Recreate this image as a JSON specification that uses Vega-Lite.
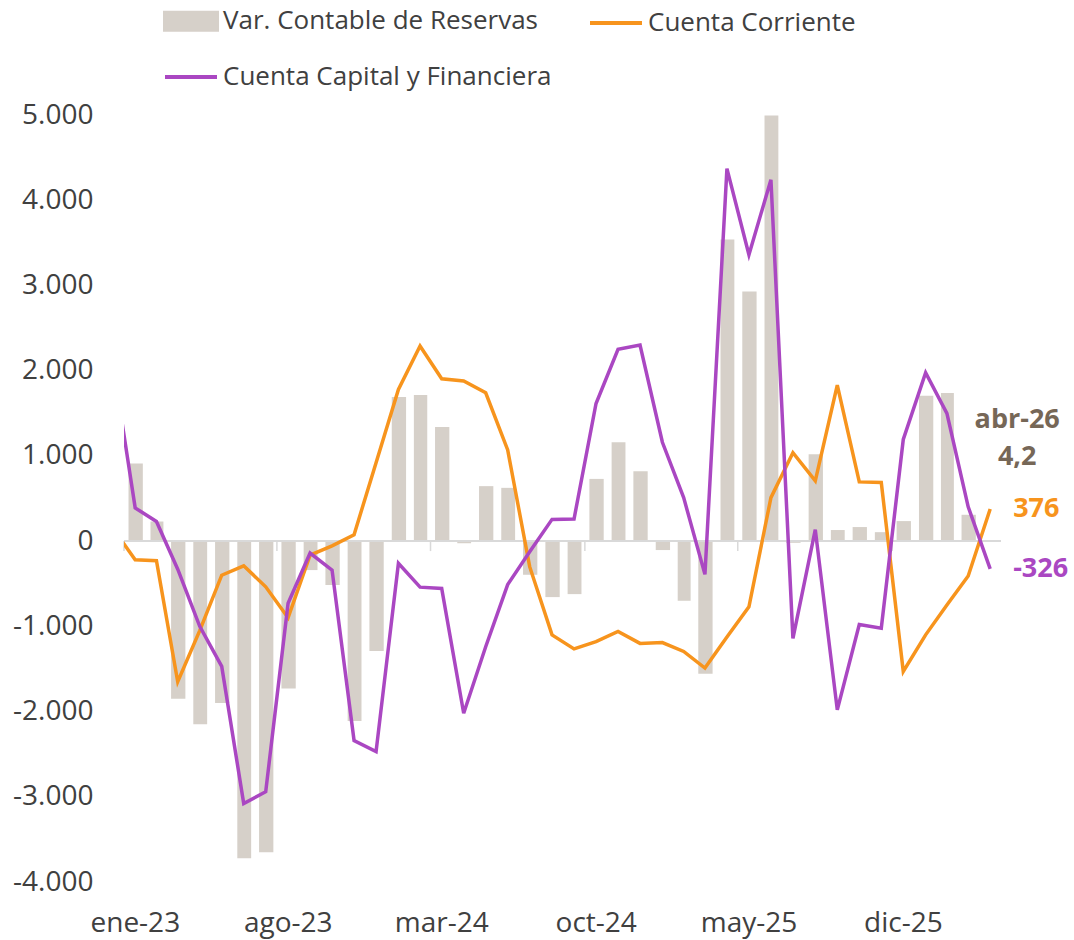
{
  "$schema": "https://vega.github.io/schema/vega-lite/v6.json",
  "width": 877,
  "height": 767,
  "autosize": {"type": "none"},
  "padding": {"left": 124, "top": 115, "right": 73, "bottom": 58},
  "background": "white",
  "config": {
    "view": {"stroke": null},
    "font": "Open Sans",
    "locale": {
      "number": {"decimal": ",", "thousands": ".", "grouping": [3], "currency": ["", " €"], "minus": "-"},
      "time": {
        "dateTime": "%A, %e de %B de %Y, %X",
        "date": "%d/%m/%Y",
        "time": "%H:%M:%S",
        "periods": ["AM", "PM"],
        "days": ["domingo", "lunes", "martes", "miércoles", "jueves", "viernes", "sábado"],
        "shortDays": ["dom", "lun", "mar", "mié", "jue", "vie", "sáb"],
        "months": ["enero", "febrero", "marzo", "abril", "mayo", "junio", "julio", "agosto", "septiembre", "octubre", "noviembre", "diciembre"],
        "shortMonths": ["ene", "feb", "mar", "abr", "may", "jun", "jul", "ago", "sep", "oct", "nov", "dic"]
      }
    }
  },
  "datasets": {
    "main": [
      {"fecha": "2022-12-01", "reservas": null, "Cuenta Corriente": 150, "Cuenta Capital y Financiera": 2100},
      {"fecha": "2023-01-01", "reservas": 910, "Cuenta Corriente": -220, "Cuenta Capital y Financiera": 390},
      {"fecha": "2023-02-01", "reservas": 230, "Cuenta Corriente": -230, "Cuenta Capital y Financiera": 230},
      {"fecha": "2023-03-01", "reservas": -1850, "Cuenta Corriente": -1650, "Cuenta Capital y Financiera": -330},
      {"fecha": "2023-04-01", "reservas": -2150, "Cuenta Corriente": -1050, "Cuenta Capital y Financiera": -1000},
      {"fecha": "2023-05-01", "reservas": -1900, "Cuenta Corriente": -400, "Cuenta Capital y Financiera": -1470},
      {"fecha": "2023-06-01", "reservas": -3720, "Cuenta Corriente": -290, "Cuenta Capital y Financiera": -3080},
      {"fecha": "2023-07-01", "reservas": -3650, "Cuenta Corriente": -536, "Cuenta Capital y Financiera": -2940},
      {"fecha": "2023-08-01", "reservas": -1730, "Cuenta Corriente": -900, "Cuenta Capital y Financiera": -730},
      {"fecha": "2023-09-01", "reservas": -340, "Cuenta Corriente": -165, "Cuenta Capital y Financiera": -140},
      {"fecha": "2023-10-01", "reservas": -515, "Cuenta Corriente": -55, "Cuenta Capital y Financiera": -340},
      {"fecha": "2023-11-01", "reservas": -2110, "Cuenta Corriente": 75, "Cuenta Capital y Financiera": -2340},
      {"fecha": "2023-12-01", "reservas": -1290, "Cuenta Corriente": 920, "Cuenta Capital y Financiera": -2470},
      {"fecha": "2024-01-01", "reservas": 1690, "Cuenta Corriente": 1780, "Cuenta Capital y Financiera": -260},
      {"fecha": "2024-02-01", "reservas": 1715, "Cuenta Corriente": 2290, "Cuenta Capital y Financiera": -540},
      {"fecha": "2024-03-01", "reservas": 1340, "Cuenta Corriente": 1905, "Cuenta Capital y Financiera": -555},
      {"fecha": "2024-04-01", "reservas": -25, "Cuenta Corriente": 1880, "Cuenta Capital y Financiera": -2020},
      {"fecha": "2024-05-01", "reservas": 645, "Cuenta Corriente": 1740, "Cuenta Capital y Financiera": -1240},
      {"fecha": "2024-06-01", "reservas": 625, "Cuenta Corriente": 1070, "Cuenta Capital y Financiera": -510},
      {"fecha": "2024-07-01", "reservas": -395, "Cuenta Corriente": -300, "Cuenta Capital y Financiera": -125},
      {"fecha": "2024-08-01", "reservas": -657, "Cuenta Corriente": -1100, "Cuenta Capital y Financiera": 255},
      {"fecha": "2024-09-01", "reservas": -622, "Cuenta Corriente": -1265, "Cuenta Capital y Financiera": 260},
      {"fecha": "2024-10-01", "reservas": 730, "Cuenta Corriente": -1180, "Cuenta Capital y Financiera": 1615},
      {"fecha": "2024-11-01", "reservas": 1160, "Cuenta Corriente": -1060, "Cuenta Capital y Financiera": 2250},
      {"fecha": "2024-12-01", "reservas": 820, "Cuenta Corriente": -1200, "Cuenta Capital y Financiera": 2300},
      {"fecha": "2025-01-01", "reservas": -105, "Cuenta Corriente": -1190, "Cuenta Capital y Financiera": 1160},
      {"fecha": "2025-02-01", "reservas": -700, "Cuenta Corriente": -1295, "Cuenta Capital y Financiera": 510},
      {"fecha": "2025-03-01", "reservas": -1555, "Cuenta Corriente": -1490, "Cuenta Capital y Financiera": -390},
      {"fecha": "2025-04-01", "reservas": 3540, "Cuenta Corriente": -1125, "Cuenta Capital y Financiera": 4370},
      {"fecha": "2025-05-01", "reservas": 2930, "Cuenta Corriente": -770, "Cuenta Capital y Financiera": 3360},
      {"fecha": "2025-06-01", "reservas": 4995, "Cuenta Corriente": 510, "Cuenta Capital y Financiera": 4240},
      {"fecha": "2025-07-01", "reservas": -20, "Cuenta Corriente": 1037, "Cuenta Capital y Financiera": -1142},
      {"fecha": "2025-08-01", "reservas": 1018, "Cuenta Corriente": 707, "Cuenta Capital y Financiera": 135},
      {"fecha": "2025-09-01", "reservas": 130, "Cuenta Corriente": 1830, "Cuenta Capital y Financiera": -1980},
      {"fecha": "2025-10-01", "reservas": 165, "Cuenta Corriente": 695, "Cuenta Capital y Financiera": -978},
      {"fecha": "2025-11-01", "reservas": 105, "Cuenta Corriente": 688, "Cuenta Capital y Financiera": -1023},
      {"fecha": "2025-12-01", "reservas": 235, "Cuenta Corriente": -1530, "Cuenta Capital y Financiera": 1193},
      {"fecha": "2026-01-01", "reservas": 1705, "Cuenta Corriente": -1100, "Cuenta Capital y Financiera": 1975},
      {"fecha": "2026-02-01", "reservas": 1737, "Cuenta Corriente": -750, "Cuenta Capital y Financiera": 1498},
      {"fecha": "2026-03-01", "reservas": 309, "Cuenta Corriente": -410, "Cuenta Capital y Financiera": 403},
      {"fecha": "2026-04-01", "reservas": 4.2, "Cuenta Corriente": 376, "Cuenta Capital y Financiera": -326}
    ],
    "ticks": [
      {"fecha": "2023-01-01"},
      {"fecha": "2023-08-01"},
      {"fecha": "2024-03-01"},
      {"fecha": "2024-10-01"},
      {"fecha": "2025-05-01"},
      {"fecha": "2025-12-01"}
    ]
  },
  "data": {"name": "main"},
  "layer": [
    {
      "mark": {"type": "bar", "width": {"band": 0.64}, "binSpacing": 0},
      "encoding": {
        "x": {
          "field": "fecha", "type": "temporal", "timeUnit": "utcyearmonth",
          "scale": {"domain": [{"year": 2023, "month": 1, "date": 1, "utc": true}, {"year": 2026, "month": 5, "date": 1, "utc": true}], "nice": false},
          "axis": {
            "values": [
              {"year": 2023, "month": 1, "date": 16, "utc": true},
              {"year": 2023, "month": 8, "date": 16, "utc": true},
              {"year": 2024, "month": 3, "date": 16, "utc": true},
              {"year": 2024, "month": 10, "date": 16, "utc": true},
              {"year": 2025, "month": 5, "date": 16, "utc": true},
              {"year": 2025, "month": 12, "date": 16, "utc": true}
            ],
            "labelExpr": "utcFormat(datum.value, '%b-%y')",
            "title": null, "domain": false, "ticks": false, "tickSize": 0, "grid": false,
            "labelFont": "Open Sans", "labelFontSize": 28, "labelColor": "#404040",
            "labelPadding": 27, "labelFlush": false, "labelOverlap": false, "labelBound": false
          }
        },
        "y": {
          "field": "reservas", "type": "quantitative",
          "scale": {"domain": [-4000, 5000], "nice": false},
          "axis": {
            "values": [-4000, -3000, -2000, -1000, 0, 1000, 2000, 3000, 4000, 5000],
            "format": ",.0f", "title": null, "domain": false, "ticks": false, "tickSize": 0, "grid": false,
            "labelFont": "Open Sans", "labelFontSize": 28, "labelColor": "#404040", "labelPadding": 31
          }
        },
        "color": {
          "datum": "Var. Contable de Reservas", "type": "nominal",
          "scale": {"domain": ["Var. Contable de Reservas", "Cuenta Corriente", "Cuenta Capital y Financiera"], "range": ["#D6D0C9", "#F7941D", "#AA47C2"]},
          "legend": {
            "orient": "none", "legendX": 39, "legendY": -122, "direction": "horizontal",
            "columns": 2, "columnPadding": 30, "rowPadding": 11, "padding": 0,
            "title": null,
            "labelFont": "Open Sans", "labelFontSize": 26, "labelColor": "#404040", "labelLimit": 600, "labelOffset": 4,
            "symbolSize": 2704, "symbolStrokeWidth": 4,
            "encode": {
              "symbols": {
                "update": {
                  "shape": {"signal": "datum.value === 'Var. Contable de Reservas' ? 'M-1,-0.33H1V0.33H-1Z' : 'M-1,0H1'"},
                  "fill": {"signal": "datum.value === 'Var. Contable de Reservas' ? '#D6D0C9' : 'transparent'"},
                  "stroke": {"signal": "datum.value === 'Cuenta Corriente' ? '#F7941D' : (datum.value === 'Cuenta Capital y Financiera' ? '#AA47C2' : 'transparent')"},
                  "strokeWidth": {"value": 4},
                  "opacity": {"value": 1}
                }
              }
            }
          }
        }
      }
    },
    {
      "mark": {"type": "rule", "color": "#D9D9D9", "strokeWidth": 2},
      "encoding": {
        "y": {"datum": 0, "type": "quantitative", "scale": {"domain": [-4000, 5000], "nice": false}}
      }
    },
    {
      "data": {"name": "ticks"},
      "mark": {"type": "rule", "color": "#D9D9D9", "strokeWidth": 1.5},
      "encoding": {
        "x": {"field": "fecha", "type": "temporal", "timeUnit": "utcyearmonth", "scale": {"domain": [{"year": 2023, "month": 1, "date": 1, "utc": true}, {"year": 2026, "month": 5, "date": 1, "utc": true}], "nice": false}},
        "y": {"datum": 0, "type": "quantitative", "scale": {"domain": [-4000, 5000], "nice": false}},
        "y2": {"datum": -117}
      }
    },
    {
      "transform": [{"fold": ["Cuenta Corriente", "Cuenta Capital y Financiera"], "as": ["serie", "valor"]}],
      "mark": {"type": "line", "strokeWidth": 3.5, "clip": true},
      "encoding": {
        "x": {"field": "fecha", "type": "temporal", "timeUnit": "utcyearmonth", "bandPosition": 0.5, "scale": {"domain": [{"year": 2023, "month": 1, "date": 1, "utc": true}, {"year": 2026, "month": 5, "date": 1, "utc": true}], "nice": false}},
        "y": {"field": "valor", "type": "quantitative", "scale": {"domain": [-4000, 5000], "nice": false}},
        "color": {
          "field": "serie", "type": "nominal",
          "scale": {"domain": ["Var. Contable de Reservas", "Cuenta Corriente", "Cuenta Capital y Financiera"], "range": ["#D6D0C9", "#F7941D", "#AA47C2"]},
          "legend": {
            "orient": "none", "legendX": 39, "legendY": -122, "direction": "horizontal",
            "columns": 2, "columnPadding": 30, "rowPadding": 11, "padding": 0,
            "title": null,
            "labelFont": "Open Sans", "labelFontSize": 26, "labelColor": "#404040", "labelLimit": 600, "labelOffset": 4,
            "symbolSize": 2704, "symbolStrokeWidth": 4,
            "encode": {
              "symbols": {
                "update": {
                  "shape": {"signal": "datum.value === 'Var. Contable de Reservas' ? 'M-1,-0.33H1V0.33H-1Z' : 'M-1,0H1'"},
                  "fill": {"signal": "datum.value === 'Var. Contable de Reservas' ? '#D6D0C9' : 'transparent'"},
                  "stroke": {"signal": "datum.value === 'Cuenta Corriente' ? '#F7941D' : (datum.value === 'Cuenta Capital y Financiera' ? '#AA47C2' : 'transparent')"},
                  "strokeWidth": {"value": 4},
                  "opacity": {"value": 1}
                }
              }
            }
          }
        },
        "order": {"field": "fecha", "type": "temporal"}
      }
    },
    {
      "transform": [{"filter": {"field": "fecha", "timeUnit": "utcyearmonth", "equal": {"year": 2026, "month": 4, "utc": true}}}],
      "mark": {"type": "text", "align": "left", "baseline": "middle", "dx": 23, "font": "Open Sans", "fontWeight": "bold", "fontSize": 27, "color": "#F7941D"},
      "encoding": {
        "x": {"field": "fecha", "type": "temporal", "timeUnit": "utcyearmonth", "bandPosition": 0.5, "scale": {"domain": [{"year": 2023, "month": 1, "date": 1, "utc": true}, {"year": 2026, "month": 5, "date": 1, "utc": true}], "nice": false}},
        "y": {"field": "Cuenta Corriente", "type": "quantitative", "scale": {"domain": [-4000, 5000], "nice": false}},
        "text": {"field": "Cuenta Corriente", "type": "quantitative", "format": "d"}
      }
    },
    {
      "transform": [{"filter": {"field": "fecha", "timeUnit": "utcyearmonth", "equal": {"year": 2026, "month": 4, "utc": true}}}],
      "mark": {"type": "text", "align": "left", "baseline": "middle", "dx": 23, "font": "Open Sans", "fontWeight": "bold", "fontSize": 27, "color": "#AA47C2"},
      "encoding": {
        "x": {"field": "fecha", "type": "temporal", "timeUnit": "utcyearmonth", "bandPosition": 0.5, "scale": {"domain": [{"year": 2023, "month": 1, "date": 1, "utc": true}, {"year": 2026, "month": 5, "date": 1, "utc": true}], "nice": false}},
        "y": {"field": "Cuenta Capital y Financiera", "type": "quantitative", "scale": {"domain": [-4000, 5000], "nice": false}},
        "text": {"field": "Cuenta Capital y Financiera", "type": "quantitative", "format": "d"}
      }
    },
    {
      "transform": [{"filter": {"field": "fecha", "timeUnit": "utcyearmonth", "equal": {"year": 2026, "month": 4, "utc": true}}}],
      "mark": {"type": "text", "align": "center", "baseline": "middle", "dx": 27, "font": "Open Sans", "fontWeight": "bold", "fontSize": 27, "color": "#766757", "text": {"expr": "utcFormat(datum.fecha, '%b-%y')"}},
      "encoding": {
        "x": {"field": "fecha", "type": "temporal", "timeUnit": "utcyearmonth", "bandPosition": 0.5, "scale": {"domain": [{"year": 2023, "month": 1, "date": 1, "utc": true}, {"year": 2026, "month": 5, "date": 1, "utc": true}], "nice": false}},
        "y": {"datum": 1420, "type": "quantitative", "scale": {"domain": [-4000, 5000], "nice": false}}
      }
    },
    {
      "transform": [{"filter": {"field": "fecha", "timeUnit": "utcyearmonth", "equal": {"year": 2026, "month": 4, "utc": true}}}],
      "mark": {"type": "text", "align": "center", "baseline": "middle", "dx": 27, "font": "Open Sans", "fontWeight": "bold", "fontSize": 27, "color": "#766757"},
      "encoding": {
        "x": {"field": "fecha", "type": "temporal", "timeUnit": "utcyearmonth", "bandPosition": 0.5, "scale": {"domain": [{"year": 2023, "month": 1, "date": 1, "utc": true}, {"year": 2026, "month": 5, "date": 1, "utc": true}], "nice": false}},
        "y": {"datum": 985, "type": "quantitative", "scale": {"domain": [-4000, 5000], "nice": false}},
        "text": {"field": "reservas", "type": "quantitative", "format": ",.1f"}
      }
    }
  ]
}
